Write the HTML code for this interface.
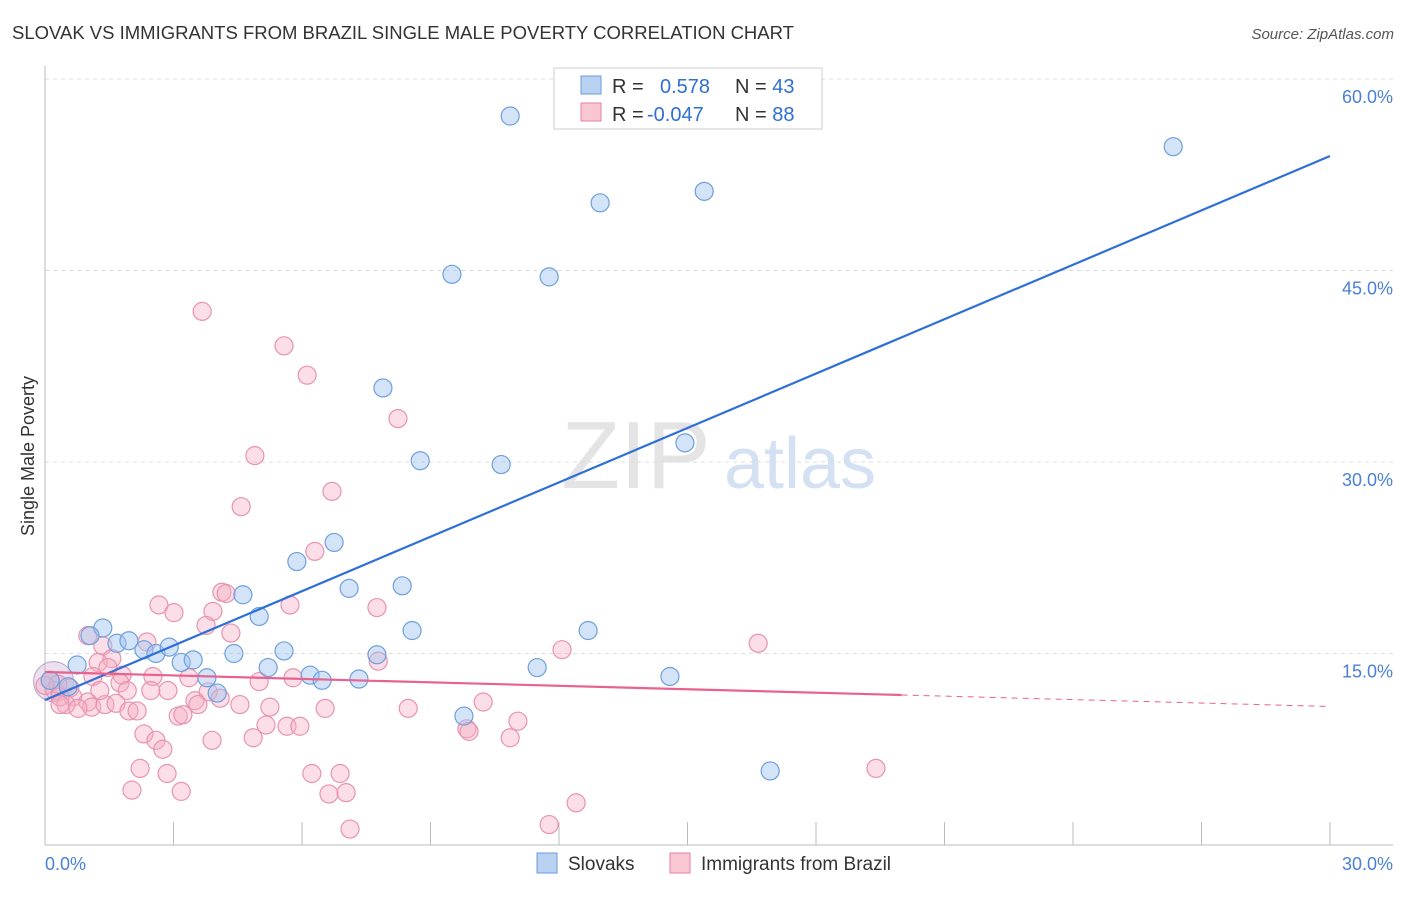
<!DOCTYPE html>
<html><head><meta charset="utf-8"><style>
body{margin:0;background:#fff;font-family:"Liberation Sans",sans-serif}
svg text{font-family:"Liberation Sans",sans-serif}
</style></head><body>
<svg id="chart" width="1406" height="892">
<text x="12" y="39" font-size="18.5" fill="#333">SLOVAK VS IMMIGRANTS FROM BRAZIL SINGLE MALE POVERTY CORRELATION CHART</text>
<text x="1394" y="39" font-size="15" fill="#555" text-anchor="end" font-style="italic">Source: ZipAtlas.com</text>
<text x="636" y="488" font-size="96" fill="#e4e4e4" font-family="Liberation Serif" text-anchor="middle">ZIP</text>
<text x="800" y="488" font-size="72" fill="#d3e1f3" text-anchor="middle">atlas</text>
<g id="grid"></g><g id="axes"></g><g id="pts"></g><g id="lines"></g>
<text x="34" y="456" font-size="18" fill="#333" text-anchor="middle" transform="rotate(-90 34 456)">Single Male Poverty</text>
<g>
<rect x="554" y="68" width="268" height="61" fill="#fff" stroke="#ccc"/>
<rect x="581" y="76" width="20" height="18" fill="#b9d1f1" stroke="#6a9bdc"/>
<rect x="581" y="103" width="20" height="18" fill="#f9c6d4" stroke="#e8829f"/>
<text x="612" y="93" font-size="20" fill="#333">R = <tspan fill="#2f6fd6" x="660">0.578</tspan><tspan x="735" fill="#333">N = </tspan><tspan fill="#2f6fd6">43</tspan></text>
<text x="612" y="121" font-size="20" fill="#333">R = <tspan fill="#2f6fd6" x="647">-0.047</tspan><tspan x="735" fill="#333">N = </tspan><tspan fill="#2f6fd6">88</tspan></text>
</g>
<g>
<rect x="537" y="853" width="20" height="20" fill="#b9d1f1" stroke="#6a9bdc"/>
<text x="568" y="870" font-size="19" fill="#333">Slovaks</text>
<rect x="670" y="853" width="20" height="20" fill="#f9c6d4" stroke="#e8829f"/>
<text x="701" y="870" font-size="19" fill="#333">Immigrants from Brazil</text>
</g>
</svg>
<script>
const xTicks=[0,3,6,9,12,15,18,21,24,27,30];
const yTicks=[15,30,45,60];
const yTickLabels=["15.0%","30.0%","45.0%","60.0%"];
const blueX=[10.86,26.34,12.96,15.39,9.50,11.77,7.89,8.76,10.65,14.94,6.75,5.88,7.10,8.34,4.62,5.00,8.57,12.68,1.35,1.05,1.68,1.96,2.31,2.59,2.90,3.18,3.46,4.41,5.58,5.21,7.75,11.49,0.75,3.78,6.19,6.47,7.33,14.59,4.02,9.78,16.93,0.12,0.54];
const blueY=[57.1,54.7,50.3,51.2,44.7,44.5,35.8,30.1,29.8,31.5,23.7,22.2,20.1,20.3,19.6,17.9,16.8,16.8,17.0,16.4,15.8,16.0,15.3,15.0,15.5,14.3,14.5,15.0,15.2,13.9,14.9,13.9,14.1,13.1,13.3,12.9,13.0,13.2,11.9,10.1,5.8,12.9,12.4];
const pinkX=[3.67,5.58,6.12,8.24,4.90,6.70,4.58,6.30,4.13,4.23,2.66,5.72,7.75,3.01,3.92,3.76,4.34,1.00,2.38,1.35,12.07,16.65,1.56,1.24,1.47,7.78,1.12,1.80,2.52,3.36,5.00,5.79,1.75,0.12,0.23,0.58,2.87,1.92,2.47,3.81,0.35,0.65,3.50,4.09,1.00,0.49,1.09,1.40,1.66,3.57,4.55,5.25,6.54,8.48,10.23,0.35,0.77,1.96,2.15,3.11,3.22,5.16,5.65,5.95,11.04,9.85,9.90,2.31,2.59,3.90,4.86,10.86,2.75,2.22,2.85,6.23,6.89,19.40,2.03,3.18,6.63,7.03,12.40,7.12,11.77,0.30,0.00,1.28];
const pinkY=[41.8,39.1,36.8,33.4,30.5,27.7,26.5,23.0,19.8,19.7,18.8,18.8,18.6,18.2,18.3,17.2,16.6,16.4,15.9,15.6,15.3,15.8,14.6,14.3,13.9,14.4,13.2,13.3,13.2,13.1,12.8,13.1,12.7,12.9,12.1,12.3,12.1,12.1,12.1,12.0,11.6,11.6,11.3,11.5,11.2,11.0,10.8,11.0,11.1,11.0,11.0,10.8,10.7,10.7,11.2,11.0,10.7,10.5,10.5,10.1,10.2,9.4,9.3,9.3,9.7,9.1,8.9,8.7,8.2,8.2,8.4,8.4,7.5,6.0,5.6,5.6,5.6,6.0,4.3,4.2,4.0,4.1,3.3,1.25,1.6,12.6,12.5,12.1];
const blueLine=[11.36,53.97];
const pinkLine=[13.55,-0.09];
const NS='http://www.w3.org/2000/svg';
const X=v=>45+v/30*1285, Y=v=>845-v/15*191.5;
function mk(p,t,a){const e=document.createElementNS(NS,t);for(const k in a)e.setAttribute(k,a[k]);p.appendChild(e);return e;}
const grid=document.getElementById('grid'),axes=document.getElementById('axes'),pts=document.getElementById('pts'),lines=document.getElementById('lines');
yTicks.forEach((t,i)=>{
 const g=mk(grid,'line',{x1:45,x2:1393,y1:Y(t),y2:Y(t),stroke:'#ddd','stroke-dasharray':'4,4'});
 
 
 const l=mk(axes,'text',{x:1393,y:Y(t)+24,'font-size':18,fill:'#4a80d6','text-anchor':'end'});
 l.textContent=yTickLabels[i];
 
 
});
const ax=mk(axes,'line',{x1:45,x2:45,y1:66,y2:845,stroke:'#bbb'});


const bx=mk(axes,'line',{x1:45,x2:1393,y1:845,y2:845,stroke:'#bbb'});


xTicks.forEach(t=>{
 const k=mk(axes,'line',{x1:X(t),x2:X(t),y1:822,y2:845,stroke:'#bbb'});
 
 
});
[[0,'0.0%','start',45],[30,'30.0%','end',1393]].forEach(a=>{
 const l=mk(axes,'text',{x:a[3],y:870,'font-size':18,fill:'#4a80d6','text-anchor':a[2]});
 l.textContent=a[1];
 
 
});
const big=mk(pts,'circle',{cx:X(0.2),cy:Y(12.8),r:20,fill:'rgba(200,170,210,0.35)',stroke:'#b8a0c8'});


pinkX.forEach((v,i)=>{
 const c=mk(pts,'circle',{cx:X(v),cy:Y(pinkY[i]),r:9,fill:'rgba(246,172,194,0.4)',stroke:'#e993ad','stroke-width':1.2});
 
 
});
blueX.forEach((v,i)=>{
 const c=mk(pts,'circle',{cx:X(v),cy:Y(blueY[i]),r:9,fill:'rgba(160,195,240,0.45)',stroke:'#6f9fdc','stroke-width':1.2});
 
 
});
const bl=mk(lines,'line',{x1:X(0),y1:Y(blueLine[0]),x2:X(30),y2:Y(blueLine[1]),stroke:'#2e6fd8','stroke-width':2.2});


const pl=mk(lines,'line',{x1:X(0),y1:Y(pinkLine[0]),x2:X(20),y2:Y(pinkLine[0]+pinkLine[1]*20),stroke:'#e8628f','stroke-width':2.2});


const pd=mk(lines,'line',{x1:X(20),y1:Y(pinkLine[0]+pinkLine[1]*20),x2:X(30),y2:Y(pinkLine[0]+pinkLine[1]*30),stroke:'#e8628f','stroke-width':1,'stroke-dasharray':'6,5'});


</script>
</body></html>
